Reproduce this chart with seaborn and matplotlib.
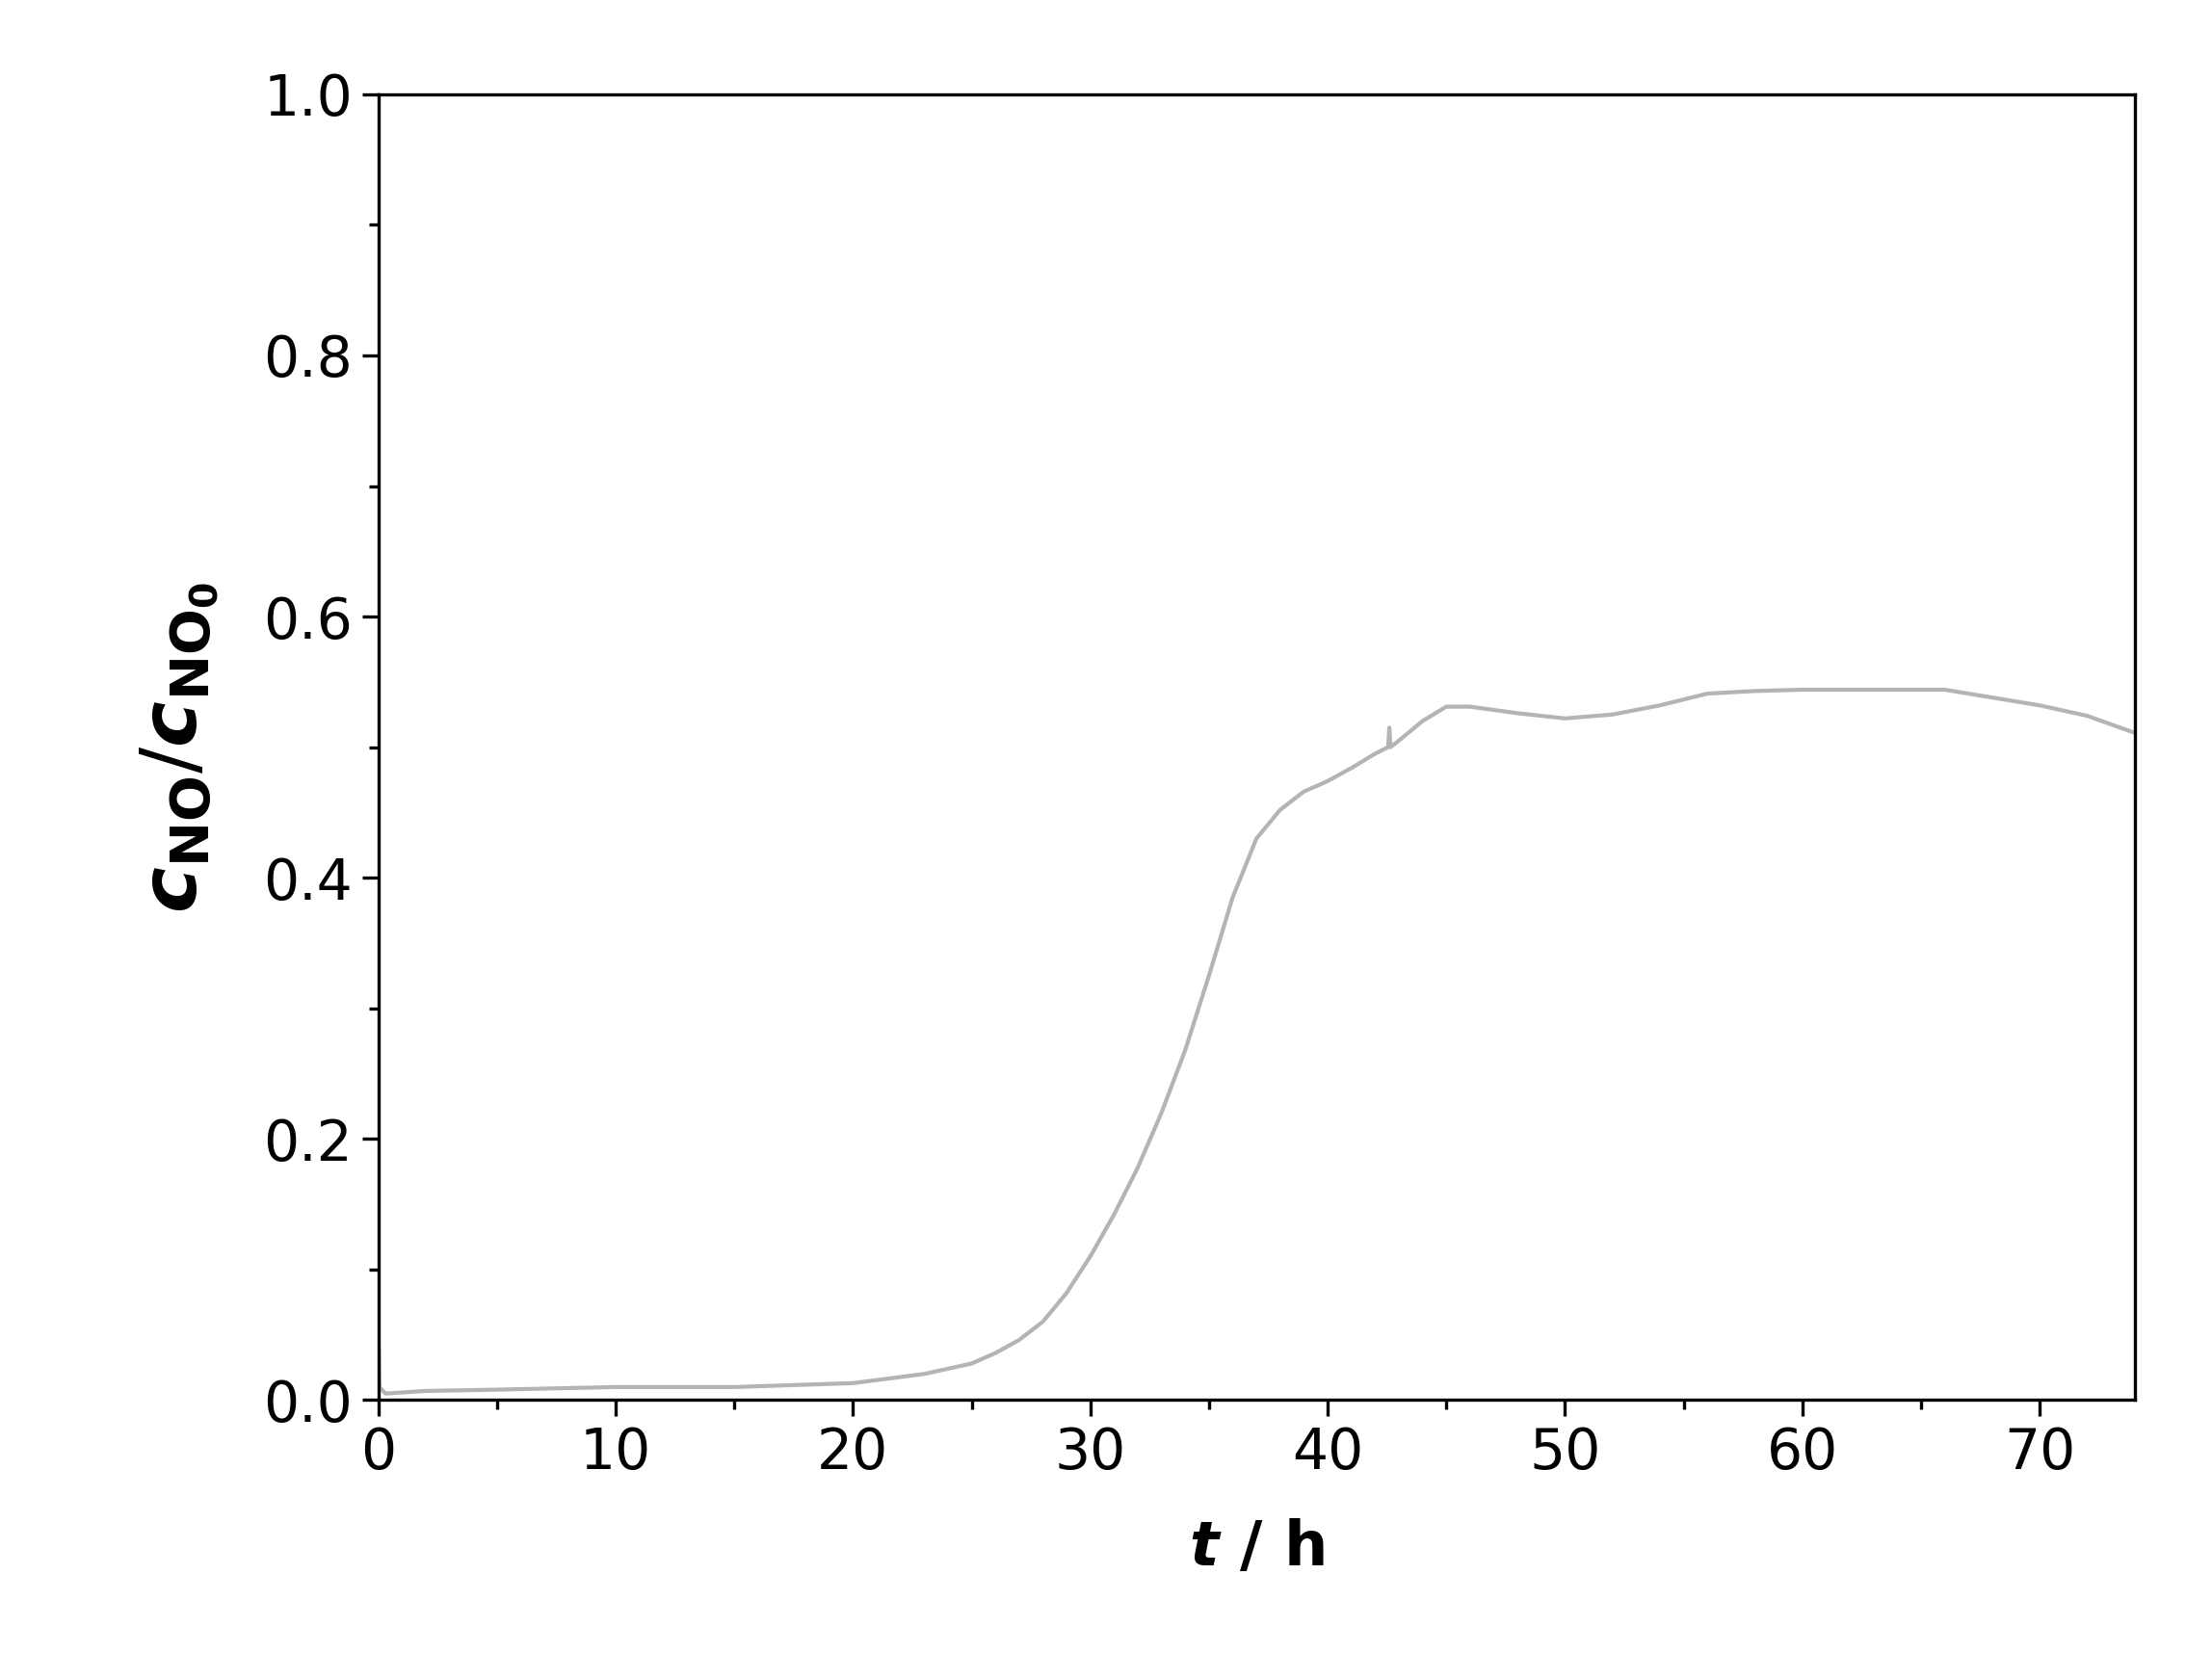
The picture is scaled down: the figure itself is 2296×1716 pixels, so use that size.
import numpy as np
import pandas as pd
import matplotlib
matplotlib.use("Agg")
import matplotlib.pyplot as plt
import seaborn as sns
from matplotlib.ticker import MultipleLocator

# time (h) and normalised NO concentration
t_h = [0, 0.05, 0.3, 2, 5, 10, 15, 20, 23, 25, 26, 27, 28, 29, 30, 31, 32, 33, 34, 35, 36, 37, 38, 39, 40,
       41, 42, 42.55, 42.6, 42.65, 43, 44, 45, 46, 48, 50, 52, 54, 56, 58, 60, 62, 64, 66, 68, 70, 72, 74]
c_ratio = [0.06, 0.01, 0.005, 0.007, 0.008, 0.01, 0.01, 0.013, 0.02, 0.028, 0.036, 0.046, 0.06,
           0.082, 0.11, 0.142, 0.178, 0.22, 0.268, 0.325, 0.385, 0.43, 0.452, 0.466, 0.474,
           0.484, 0.495, 0.5, 0.515, 0.5, 0.505, 0.52, 0.531, 0.531, 0.526, 0.522, 0.525, 0.532,
           0.541, 0.543, 0.544, 0.544, 0.544, 0.544, 0.538, 0.532, 0.524, 0.511]

df = pd.DataFrame({"t": t_h, "c": c_ratio})

sns.set_style("ticks")
plt.rcParams['font.family'] = ['DejaVu Sans']
plt.rcParams['text.color'] = 'black'
plt.rcParams['axes.labelcolor'] = 'black'
plt.rcParams['xtick.color'] = 'black'
plt.rcParams['ytick.color'] = 'black'

fig = plt.figure(figsize=(11.48, 8.58), dpi=200)
ax = fig.add_axes([0.171, 0.153, 0.794, 0.79])
sns.lineplot(data=df, x="t", y="c", ax=ax, color="#b4b4b4", linewidth=1.5)

ax.set_xlim(0, 74)
ax.set_ylim(0, 1.0)
ax.xaxis.set_major_locator(MultipleLocator(10))
ax.xaxis.set_minor_locator(MultipleLocator(5))
ax.yaxis.set_major_locator(MultipleLocator(0.2))
ax.yaxis.set_minor_locator(MultipleLocator(0.1))
ax.yaxis.set_major_formatter(matplotlib.ticker.FormatStrFormatter('%.1f'))
ax.tick_params(which='major', length=6, width=1.2, labelsize=21, direction='out')
ax.tick_params(which='minor', length=3.5, width=1.2, direction='out')
for s in ax.spines.values():
    s.set_linewidth(1.2)
    s.set_color('black')

ax.set_xlabel(r'$\mathbfit{t}$ / h', fontsize=23, fontweight='bold', labelpad=14)
ax.set_ylabel(r'$\mathbfit{c}_{\mathbf{NO}}/\mathbfit{c}_{\mathbf{NO_0}}$', fontsize=29, labelpad=16)

fig.savefig("out.png", dpi=200)
